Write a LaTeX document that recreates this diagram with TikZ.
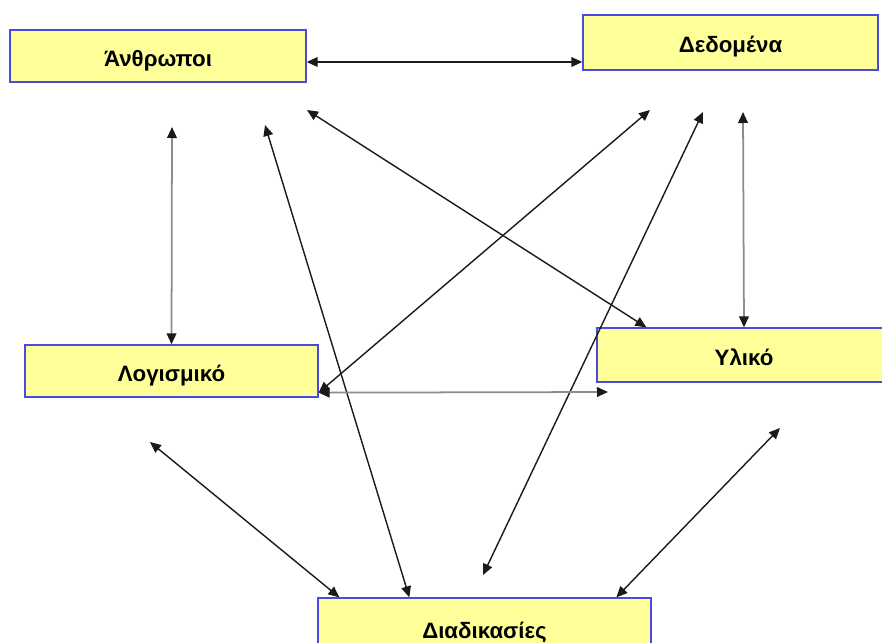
\documentclass[tikz,border=0pt]{standalone}
\usepackage{fontspec}
\setmainfont{Liberation Sans}
\usetikzlibrary{arrows.meta}
\definecolor{BoxFill}{HTML}{FFFF99}
\definecolor{BoxLine}{HTML}{4A4AE0}
\definecolor{Ink}{HTML}{1A1A1A}
\definecolor{Grey}{HTML}{8C8C8C}

\begin{document}
\begin{tikzpicture}[x=0.03cm,y=-0.03cm,
    bx/.style={draw=BoxLine,fill=BoxFill,line width=1.1pt,inner sep=0pt,minimum height=1.56cm,text height=0.72cm,text depth=0.12cm,font=\bfseries\fontsize{19}{22}\selectfont},
    a/.style={{Triangle[length=3.3mm,width=2.9mm]}-{Triangle[length=3.3mm,width=2.9mm]},line width=1.2pt,draw=Ink},
    ag/.style={{Triangle[length=3.3mm,width=2.9mm,color=Ink]}-{Triangle[length=3.3mm,width=2.9mm,color=Ink]},line width=1.5pt,draw=Grey}]
  \useasboundingbox (0,0) rectangle (882,643);
  % boxes
  \node[bx,minimum width=8.88cm] (anth) at (158,56) {Άνθρωποι};
  \node[bx,minimum width=8.85cm,minimum height=1.65cm] (ded) at (730.5,42.5) {Δεδομένα};
  \node[bx,minimum width=8.79cm] (lg) at (171.5,371) {Λογισμικό};
  \node[bx,minimum width=8.82cm,minimum height=1.62cm] (yl) at (744,355) {Υλικό};
  \node[bx,minimum width=9.99cm,minimum height=1.8cm] (dia) at (484.5,628) {Διαδικασίες};
  % free ends
  \coordinate (anthA) at (172,127);
  \coordinate (anthB) at (265,125);
  \coordinate (anthC) at (307,110);
  \coordinate (dedA) at (650,110);
  \coordinate (dedB) at (703,112);
  \coordinate (dedC) at (743,112);
  \coordinate (lgA) at (150,442);
  \coordinate (ylA) at (608,392);
  \coordinate (ylB) at (780,428);
  \coordinate (diaA) at (483,575);
  \coordinate (hl) at ([yshift=-0.18cm]anth.east);
  \coordinate (lgC) at ([yshift=0.15cm]lg.south east);
  % connectors
  \draw[a] (hl) -- (hl -| ded.west);
  \draw[ag] (lg.north) -- (anthA);
  \draw[a] (anthB) -- ([xshift=2.76cm]dia.north west);
  \draw[a] (anthC) -- ([xshift=1.5cm]yl.north west);
  \draw[a] (dedA) -- (lgC);
  \draw[a] (dedB) -- (diaA);
  \draw[ag] (dedC) -- (yl.north);
  \draw[ag] (lgC) -- (ylA);
  \draw[a] (lgA) -- ([xshift=0.66cm]dia.north west);
  \draw[a] (ylB) -- ([xshift=8.97cm]dia.north west);
\end{tikzpicture}
\end{document}
